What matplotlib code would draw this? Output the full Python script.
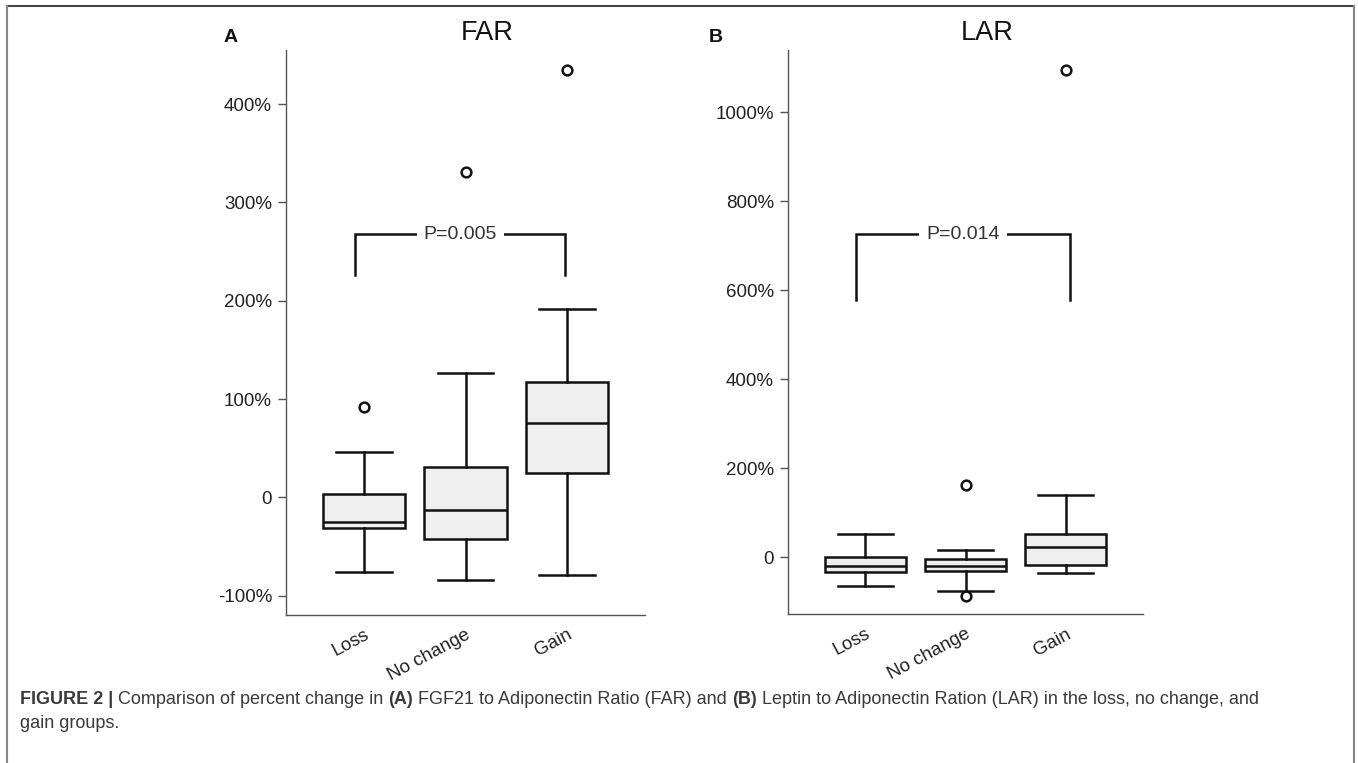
import matplotlib
matplotlib.use('Agg')
import matplotlib.pyplot as plt
from matplotlib.lines import Line2D

plt.rcParams['font.family'] = ['Liberation Sans', 'DejaVu Sans']

# ---------------- data ----------------
groups = ['Loss', 'No change', 'Gain']

far_whislo = [-76, -84, -79]
far_q1 = [-31.5, -42, 24.5]
far_med = [-24.8, -13.2, 76]
far_q3 = [3.7, 30.5, 117]
far_whishi = [46.4, 126.8, 191.5]
far_fliers = [[92], [331], [435]]
far_ticks = [-100, 0, 100, 200, 300, 400]
far_ticklabels = ['-100%', '0', '100%', '200%', '300%', '400%']
far_p = 'P=0.005'

lar_whislo = [-64.5, -76.4, -35]
lar_q1 = [-33.7, -31.5, -16.6]
lar_med = [-18.9, -20.2, 22.5]
lar_q3 = [-0.2, -3.8, 53]
lar_whishi = [51.7, 15.7, 140]
lar_fliers = [[], [163, -86], [1095]]
lar_ticks = [0, 200, 400, 600, 800, 1000]
lar_ticklabels = ['0', '200%', '400%', '600%', '800%', '1000%']
lar_p = 'P=0.014'

W, H = 1358, 763
fig = plt.figure(figsize=(W / 100, H / 100), dpi=100)


def fx(px):
    return px / W


def fy(py):
    return 1 - py / H


def panel(rect, title, title_x, letter, letter_xy, whislo, q1, med, q3, whishi,
          fliers, ticks, ticklabels, ylim, bracket):
    ax = fig.add_axes(rect)
    stats = []
    for i in range(len(groups)):
        stats.append(dict(whislo=whislo[i], q1=q1[i], med=med[i], q3=q3[i],
                          whishi=whishi[i], fliers=fliers[i], label=groups[i]))
    lw = 1.8
    ax.bxp(stats, positions=[1, 2, 3], widths=0.81, capwidths=0.55,
           patch_artist=True, showfliers=True,
           boxprops=dict(facecolor='#efefef', edgecolor='#111111', linewidth=lw),
           medianprops=dict(color='#111111', linewidth=lw),
           whiskerprops=dict(color='#111111', linewidth=lw),
           capprops=dict(color='#111111', linewidth=lw),
           flierprops=dict(marker='o', markersize=7, markerfacecolor='white',
                           markeredgecolor='#111111', markeredgewidth=1.8))
    ax.set_xlim(0.23, 3.77)
    ax.set_ylim(*ylim)
    ax.set_yticks(ticks)
    ax.set_yticklabels(ticklabels)
    ax.set_xticks([1, 2, 3])
    ax.set_xticklabels(groups, rotation=28, ha='right', va='top',
                       rotation_mode='anchor')
    for s in ['top', 'right']:
        ax.spines[s].set_visible(False)
    for s in ['left', 'bottom']:
        ax.spines[s].set_color('#555555')
        ax.spines[s].set_linewidth(1.0)
    ax.tick_params(axis='y', length=6, width=1, color='#555555',
                   labelsize=13.5, labelcolor='#222222', pad=4)
    ax.tick_params(axis='x', length=0, labelsize=13.5, labelcolor='#222222',
                   pad=8)
    # significance bracket
    x0, x1, ylo, yhi, ptxt = bracket
    ax.plot([x0, x0, x1, x1], [ylo, yhi, yhi, ylo], color='#111111',
            linewidth=1.8, solid_joinstyle='miter', clip_on=False)
    ax.text((x0 + x1) / 2, yhi, ptxt, ha='center', va='center', fontsize=14,
            color='#333333',
            bbox=dict(facecolor='white', edgecolor='none', pad=5))
    fig.text(fx(title_x), fy(33), title,
             ha='center', va='center', fontsize=19.5, color='#111111')
    fig.text(fx(letter_xy[0]), fy(letter_xy[1]), letter, ha='center',
             va='center', fontsize=14, fontweight='bold', color='#111111')
    return ax


axA = panel([fx(286), fy(615), fx(645 - 286), (615 - 50) / H], 'FAR', 487,
            'A', (231, 38), far_whislo, far_q1, far_med, far_q3, far_whishi,
            far_fliers, far_ticks, far_ticklabels, (-119.7, 455),
            (0.915, 2.985, 226, 267.5, far_p))
axB = panel([fx(788), fy(614.3), fx(1143 - 788), (614.3 - 50) / H], 'LAR', 987,
            'B', (716, 38), lar_whislo, lar_q1, lar_med, lar_q3, lar_whishi,
            lar_fliers, lar_ticks, lar_ticklabels, (-128, 1140),
            (0.913, 3.04, 578, 726, lar_p))

# frame lines of the figure
fig.add_artist(Line2D([fx(7), fx(1354)], [fy(6), fy(6)], color='#444444',
                      linewidth=1.5, transform=fig.transFigure))
fig.add_artist(Line2D([fx(7), fx(7)], [fy(6), 0], color='#888888',
                      linewidth=1.5, transform=fig.transFigure))
fig.add_artist(Line2D([fx(1354), fx(1354)], [fy(6), 0], color='#888888',
                      linewidth=1.5, transform=fig.transFigure))

# caption with mixed weights
renderer = fig.canvas.get_renderer()
cap_size = 13
cap_color = '#3a3a3a'
line1 = [('FIGURE 2 |', 'bold'), (' Comparison of percent change in ', 'normal'),
         ('(A)', 'bold'), (' FGF21 to Adiponectin Ratio (FAR) and ', 'normal'),
         ('(B)', 'bold'),
         (' Leptin to Adiponectin Ration (LAR) in the loss, no change, and',
          'normal')]
x = fx(20)
y1 = fy(700)
for txt, wt in line1:
    t = fig.text(x, y1, txt, ha='left', va='center', fontsize=cap_size,
                 fontweight=wt, color=cap_color)
    bb = t.get_window_extent(renderer=renderer)
    x += bb.width / W
fig.text(fx(20), fy(723), 'gain groups.', ha='left', va='center',
         fontsize=cap_size, color=cap_color)

fig.savefig('out.png', dpi=100)
